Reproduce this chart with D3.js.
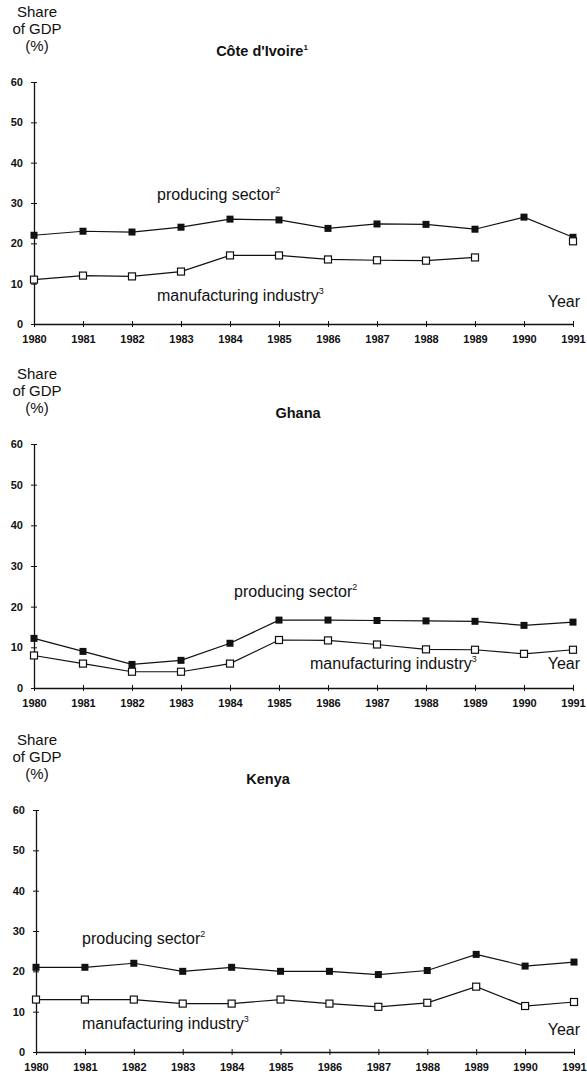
<!DOCTYPE html>
<html>
<head>
<meta charset="utf-8">
<script src="https://cdn.jsdelivr.net/npm/d3@7/dist/d3.min.js"></script>
<style>
  html, body { margin: 0; padding: 0; background: #fff; }
  svg { display: block; font-family: Arial, "Liberation Sans", Helvetica, sans-serif; }
</style>
</head>
<body>
<svg id="chart" width="587" height="1078"></svg>
<script>
// Years on the horizontal axis
const years = [1980, 1981, 1982, 1983, 1984, 1985, 1986, 1987, 1988, 1989, 1990, 1991];
const yTicks = [0, 10, 20, 30, 40, 50, 60];

// Côte d'Ivoire: share of GDP (%)
const ciProducing     = [22, 23, 22.8, 24, 26, 25.8, 23.7, 24.8, 24.7, 23.5, 26.5, 21.5];
const ciManufacturing = [11, 12, 11.8, 13, 17, 17, 16, 15.8, 15.7, 16.5, null, 20.5];

// Ghana: share of GDP (%)
const ghProducing     = [12.2, 9, 5.8, 6.8, 11, 16.7, 16.7, 16.6, 16.5, 16.4, 15.4, 16.2];
const ghManufacturing = [8, 6, 4, 4, 6, 11.8, 11.7, 10.7, 9.5, 9.4, 8.4, 9.4];

// Kenya: share of GDP (%)
const keProducing     = [21, 21, 22, 20, 21, 20, 20, 19.2, 20.2, 24.2, 21.3, 22.3];
const keManufacturing = [13, 13, 13, 12, 12, 13, 12, 11.2, 12.2, 16.2, 11.4, 12.4];

const panels = [
  { title: "Côte d'Ivoire", sup: "1", producing: ciProducing, manufacturing: ciManufacturing,
    top: 82, bottom: 324, left: 34, right: 573, titleX: 262,
    prodLabel: { x: 157, v: 30.8 }, manuLabel: { x: 157, v: 5.6 }, yearLabel: { v: 4.2 } },
  { title: "Ghana", sup: "", producing: ghProducing, manufacturing: ghManufacturing,
    top: 444, bottom: 688, left: 34, right: 573, titleX: 298,
    prodLabel: { x: 234, v: 22.3 }, manuLabel: { x: 310, v: 4.6 }, yearLabel: { v: 4.6 } },
  { title: "Kenya", sup: "", producing: keProducing, manufacturing: keManufacturing,
    top: 810, bottom: 1052, left: 36, right: 574, titleX: 268,
    prodLabel: { x: 82, v: 26.8 }, manuLabel: { x: 82, v: 5.8 }, yearLabel: { v: 4.2 } }
];

const svg = d3.select("#chart");

function drawPanel(p) {
  const g = svg.append("g");
  const x = d3.scalePoint().domain(years).range([p.left, p.right]);
  const y = d3.scaleLinear().domain([0, 60]).range([p.bottom, p.top]);

  // Axis title, stacked in three lines
  const yt = g.append("text").attr("text-anchor", "middle").attr("font-size", 15).attr("fill", "#111");
  [["Share", -65], ["of GDP", -48], ["(%)", -31]].forEach(([t, dy]) => {
    yt.append("tspan").attr("x", 37).attr("y", p.top + dy).text(t);
  });

  // Panel title
  const tt = g.append("text").attr("x", p.titleX).attr("y", p.top - 26)
    .attr("text-anchor", "middle")
    .attr("font-size", 14.5).attr("font-weight", "bold").attr("fill", "#111");
  tt.append("tspan").text(p.title);
  if (p.sup) tt.append("tspan").attr("font-size", 8).attr("dy", -6).text(p.sup);

  // Y axis with ticks crossing the line
  const yAxis = d3.axisLeft(y).tickValues(yTicks).tickSizeInner(4).tickSizeOuter(0).tickPadding(7);
  const ya = g.append("g").attr("transform", `translate(${p.left},0)`).call(yAxis);
  ya.select(".domain").attr("stroke", "#111").attr("stroke-width", 1.3);
  ya.selectAll(".tick line").attr("x2", -3).attr("x1", 3).attr("stroke", "#111");
  ya.selectAll(".tick text").attr("font-size", 11).attr("font-weight", "bold")
    .attr("fill", "#111").attr("font-family", "Arial, 'Liberation Sans', sans-serif");

  // X axis with small crossing ticks
  const xAxis = d3.axisBottom(x).tickSizeInner(3).tickSizeOuter(0).tickPadding(8);
  const xa = g.append("g").attr("transform", `translate(0,${p.bottom})`).call(xAxis);
  xa.select(".domain").attr("stroke", "#111").attr("stroke-width", 1.3);
  xa.selectAll(".tick line").attr("y1", -3).attr("y2", 3).attr("stroke", "#111");
  xa.selectAll(".tick text").attr("font-size", 11).attr("font-weight", "bold")
    .attr("fill", "#111").attr("font-family", "Arial, 'Liberation Sans', sans-serif");

  // Lines: a gap leaves the lone final point unconnected
  [p.producing, p.manufacturing].forEach(series => {
    const l = d3.line()
      .defined(d => d != null)
      .x((d, i) => x(years[i]))
      .y(d => y(d));
    g.append("path").datum(series).attr("d", l)
      .attr("fill", "none").attr("stroke", "#111").attr("stroke-width", 1.2);
  });

  const s = 7;
  // Producing sector: filled squares
  g.selectAll(".prod").data(p.producing.map((v, i) => ({ v, i })).filter(d => d.v != null))
    .enter().append("rect")
    .attr("x", d => x(years[d.i]) - s / 2).attr("y", d => y(d.v) - s / 2)
    .attr("width", s).attr("height", s).attr("fill", "#111");

  // Manufacturing industry: open squares
  g.selectAll(".manu").data(p.manufacturing.map((v, i) => ({ v, i })).filter(d => d.v != null))
    .enter().append("rect")
    .attr("x", d => x(years[d.i]) - s / 2).attr("y", d => y(d.v) - s / 2)
    .attr("width", s).attr("height", s).attr("fill", "#fff")
    .attr("stroke", "#111").attr("stroke-width", 1.2);

  // Series labels
  const pl = g.append("text").attr("x", p.prodLabel.x).attr("y", y(p.prodLabel.v))
    .attr("font-size", 16).attr("fill", "#111");
  pl.append("tspan").text("producing sector");
  pl.append("tspan").attr("font-size", 9).attr("dy", -7).text("2");

  const ml = g.append("text").attr("x", p.manuLabel.x).attr("y", y(p.manuLabel.v))
    .attr("font-size", 16).attr("fill", "#111");
  ml.append("tspan").text("manufacturing industry");
  ml.append("tspan").attr("font-size", 9).attr("dy", -7).text("3");

  g.append("text").attr("x", 580).attr("y", y(p.yearLabel.v)).attr("text-anchor", "end")
    .attr("font-size", 16).attr("fill", "#111").text("Year");
}

panels.forEach(drawPanel);
</script>
</body>
</html>
